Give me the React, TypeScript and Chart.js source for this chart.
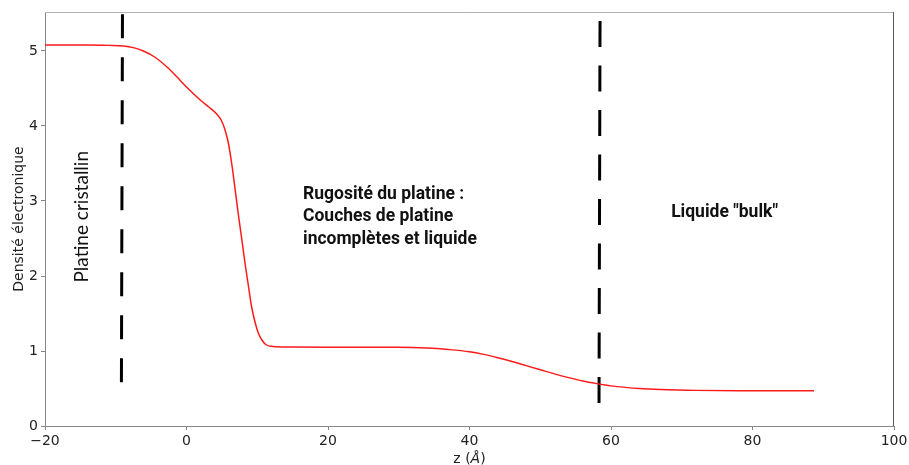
import React, { useEffect, useRef } from "react";
import { Chart, registerables } from "chart.js";

Chart.register(...registerables);

// Electron density profile along z (Å)
const zValues = [
  -20, -14, -11, -8.9, -7.5, -6.1, -4.5, -2.8, -1.4, 0, 1.9, 3.2, 4.27, 4.9, 5.44, 5.9, 6.39,
  6.85, 7.3, 7.8, 8.27, 8.75, 9.2, 9.7, 10.15, 10.7, 11.3, 12, 12.75, 15, 20, 26, 30, 34, 37,
  40, 42, 44, 46, 48, 50, 52, 54, 56, 58, 60, 62, 64, 67, 72, 78, 84, 88.7,
];
const densityValues = [
  5.08, 5.08, 5.075, 5.067, 5.045, 5.0, 4.92, 4.79, 4.66, 4.52, 4.35, 4.25, 4.16, 4.08, 3.95,
  3.78, 3.5, 3.17, 2.84, 2.5, 2.17, 1.87, 1.59, 1.38, 1.24, 1.14, 1.08, 1.062, 1.057, 1.052,
  1.05, 1.05, 1.05, 1.04, 1.02, 0.99, 0.955, 0.91, 0.86, 0.805, 0.75, 0.695, 0.645, 0.6, 0.565,
  0.535, 0.515, 0.5, 0.487, 0.475, 0.47, 0.47, 0.47,
];

// Dashed separators (x top, x bottom) and (y top, y bottom)
const sep1X = [-9.05, -9.2];
const sep1Y = [5.49, 0.55];
const sep2X = [58.45, 58.3];
const sep2Y = [5.4, 0.11];

// Axis ranges / ticks
const xMin = -20;
const xMax = 100;
const xStep = 20;
const yMin = 0;
const yMax = 5.52;
const yStep = 1;

// Annotations
const annoCrystal = "Platine cristallin";
const annoRough = ["Rugosité du platine :", "Couches de platine", "incomplètes et liquide"];
const annoBulk = 'Liquide "bulk"';
const yTitle = "Densité électronique";

export default function App() {
  const canvasRef = useRef<HTMLCanvasElement | null>(null);

  useEffect(() => {
    const canvas = canvasRef.current;
    if (!canvas) return;

    const overlay = {
      id: "overlay",
      afterDraw(chart: any) {
        const { ctx, chartArea, scales } = chart;
        const xs = scales.x;
        const ys = scales.y;
        ctx.save();
        // top and right frame
        ctx.lineWidth = 1;
        ctx.strokeStyle = "#b3b3b3";
        ctx.beginPath();
        ctx.moveTo(chartArea.left, chartArea.top + 0.5);
        ctx.lineTo(chartArea.right, chartArea.top + 0.5);
        ctx.stroke();
        ctx.strokeStyle = "#555555";
        ctx.beginPath();
        ctx.moveTo(chartArea.right - 0.5, chartArea.top);
        ctx.lineTo(chartArea.right - 0.5, chartArea.bottom);
        ctx.stroke();

        ctx.fillStyle = "#111111";
        // Platine cristallin (rotated)
        ctx.save();
        ctx.translate(xs.getPixelForValue(-14.77), ys.getPixelForValue(2.79));
        ctx.rotate(-Math.PI / 2);
        ctx.font = "19px Lato";
        ctx.textAlign = "center";
        ctx.textBaseline = "middle";
        ctx.fillText(annoCrystal, 0, 0);
        ctx.restore();

        // Rugosité block
        ctx.font = "bold 17.5px Roboto";
        ctx.textAlign = "left";
        ctx.textBaseline = "alphabetic";
        const rx = xs.getPixelForValue(16.47);
        annoRough.forEach((line, i) => {
          ctx.fillText(line, rx, ys.getPixelForValue(3.03 - i * 0.3));
        });
        // Liquide bulk
        ctx.fillText(annoBulk, xs.getPixelForValue(68.5), ys.getPixelForValue(2.79));

        // Axis titles
        ctx.fillStyle = "#222222";
        ctx.font = "14px 'DejaVu Sans'";
        ctx.save();
        ctx.translate(23, (chartArea.top + chartArea.bottom) / 2);
        ctx.rotate(-Math.PI / 2);
        ctx.textAlign = "center";
        ctx.textBaseline = "alphabetic";
        ctx.fillText(yTitle, 0, 0);
        ctx.restore();

        const p1 = "z (";
        const p2 = "Å";
        const p3 = ")";
        ctx.font = "14px 'DejaVu Sans'";
        const w1 = ctx.measureText(p1).width;
        const w3 = ctx.measureText(p3).width;
        ctx.font = "italic 14px 'DejaVu Sans'";
        const w2 = ctx.measureText(p2).width;
        const total = w1 + w2 + w3;
        const cx = (chartArea.left + chartArea.right) / 2;
        let sx = cx - total / 2;
        const by = 463;
        ctx.textAlign = "left";
        ctx.font = "14px 'DejaVu Sans'";
        ctx.fillText(p1, sx, by);
        sx += w1;
        ctx.font = "italic 14px 'DejaVu Sans'";
        ctx.fillText(p2, sx, by);
        sx += w2;
        ctx.font = "14px 'DejaVu Sans'";
        ctx.fillText(p3, sx, by);
        ctx.restore();
      },
    };

    const chart = new Chart(canvas, {
      type: "line",
      data: {
        datasets: [
          {
            data: zValues.map((x, i) => ({ x, y: densityValues[i] })),
            borderColor: "#ff1a1a",
            borderWidth: 1.5,
            pointRadius: 0,
            cubicInterpolationMode: "monotone",
            fill: false,
          },
          {
            data: sep1X.map((x, i) => ({ x, y: sep1Y[i] })),
            borderColor: "#000000",
            borderWidth: 3,
            borderDash: [24, 19],
            pointRadius: 0,
            fill: false,
          },
          {
            data: sep2X.map((x, i) => ({ x, y: sep2Y[i] })),
            borderColor: "#000000",
            borderWidth: 3,
            borderDash: [26, 18.5],
            pointRadius: 0,
            fill: false,
          },
        ],
      },
      options: {
        animation: false,
        responsive: true,
        maintainAspectRatio: false,
        layout: { padding: { top: 12, right: 15, left: 0, bottom: 0 } },
        plugins: { legend: { display: false }, tooltip: { enabled: false } },
        scales: {
          x: {
            type: "linear",
            min: xMin,
            max: xMax,
            ticks: {
              stepSize: xStep,
              includeBounds: false,
              color: "#222222",
              padding: 3,
              maxRotation: 0,
              font: { family: "'DejaVu Sans'", size: 14 },
              callback: (v: any) => String(v).replace("-", "\u2212"),
            },
            grid: { drawOnChartArea: false, tickLength: 4, color: "#888888" },
            border: { color: "#888888", width: 1 },
            afterFit: (s: any) => {
              s.height = 39;
              s.paddingLeft = 0;
              s.paddingRight = 0;
            },
          },
          y: {
            type: "linear",
            min: yMin,
            max: yMax,
            ticks: {
              stepSize: yStep,
              includeBounds: false,
              color: "#222222",
              padding: 3,
              font: { family: "'DejaVu Sans'", size: 14 },
            },
            grid: { drawOnChartArea: false, tickLength: 4, color: "#888888" },
            border: { color: "#888888", width: 1 },
            afterFit: (s: any) => {
              s.width = 45;
            },
          },
        },
      },
      plugins: [overlay],
    });

    return () => chart.destroy();
  }, []);

  return (
    <div style={{ position: "fixed", left: 0, top: 0, width: 909, height: 465, background: "#fff" }}>
      <canvas ref={canvasRef} />
    </div>
  );
}
